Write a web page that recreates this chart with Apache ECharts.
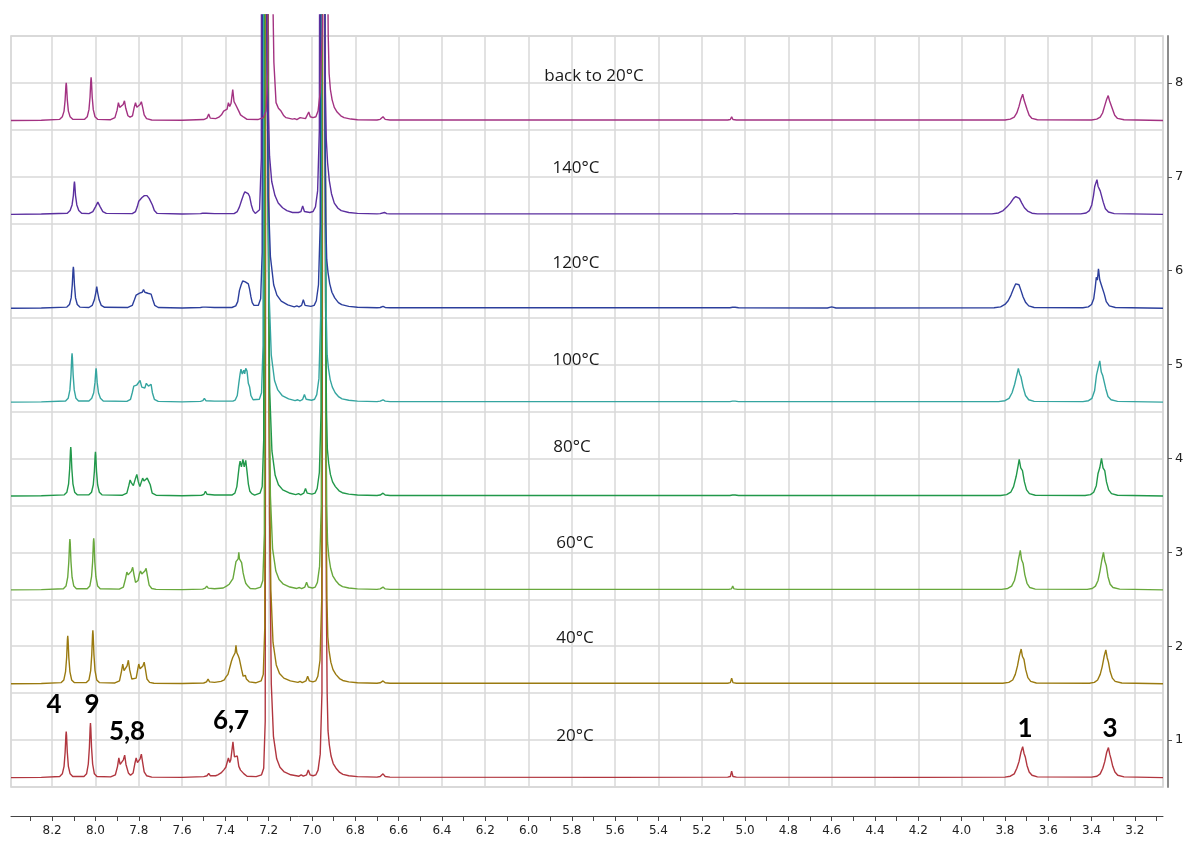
<!DOCTYPE html>
<html><head><meta charset="utf-8">
<script src="https://cdn.jsdelivr.net/npm/echarts@6/dist/echarts.min.js"></script>
<style>html,body{margin:0;padding:0;background:#fff}#c{width:1188px;height:844px}</style>
</head><body><div id="c"></div><script>
// ---- tick values / labels ----
const ppmMinorTicks = [8.3,8.2,8.1,8.0,7.9,7.8,7.7,7.6,7.5,7.4,7.3,7.2,7.1,7.0,6.9,6.8,6.7,6.6,6.5,6.4,6.3,6.2,6.1,6.0,5.9,5.8,5.7,5.6,5.5,5.4,5.3,5.2,5.1,5.0,4.9,4.8,4.7,4.6,4.5,4.4,4.3,4.2,4.1,4.0,3.9,3.8,3.7,3.6,3.5,3.4,3.3,3.2,3.1];
const ppmLabels = [8.2,8.0,7.8,7.6,7.4,7.2,7.0,6.8,6.6,6.4,6.2,6.0,5.8,5.6,5.4,5.2,5.0,4.8,4.6,4.4,4.2,4.0,3.8,3.6,3.4,3.2];
const spectrumIndex = [1,2,3,4,5,6,7,8];
const temperatures = ['20°C','40°C','60°C','80°C','100°C','120°C','140°C','back to 20°C'];
const peakLabels = ['4','9','5,8','6,7','1','3'];

// ---- spectra: [ppm, intensity above baseline] ----
const s20C = [[8.39,0],[8.25,0.003],[8.165,0.012],[8.153,0.04],[8.145,0.12],[8.14,0.27],[8.1365,0.45],[8.135,0.49],[8.1335,0.45],[8.13,0.27],[8.125,0.12],[8.117,0.04],[8.105,0.012],
[8.053,0.012],[8.041,0.04],[8.033,0.145],[8.028,0.32],[8.0245,0.53],[8.023,0.58],[8.0215,0.53],[8.018,0.32],[8.013,0.145],[8.005,0.04],[7.993,0.012],
[7.93,0.008],[7.908,0.03],[7.898,0.12],[7.892,0.21],[7.886,0.14],[7.878,0.12],[7.871,0.19],[7.865,0.24],[7.859,0.14],[7.848,0.05],[7.838,0.025],[7.826,0.05],[7.818,0.15],[7.812,0.21],[7.806,0.16],[7.8,0.14],[7.794,0.2],[7.788,0.25],[7.782,0.16],[7.775,0.06],[7.764,0.02],[7.74,0.005],
[7.6,0.003],[7.5,0.01],[7.485,0.02],[7.477,0.046],[7.47,0.02],[7.445,0.02],[7.435,0.03],[7.42,0.05],[7.408,0.08],[7.398,0.11],[7.392,0.12],[7.386,0.21],[7.38,0.16],[7.375,0.19],[7.365,0.38],[7.358,0.22],[7.352,0.2],[7.345,0.23],[7.338,0.12],[7.33,0.08],[7.322,0.09],[7.314,0.04],[7.3,0.015],
[7.258,0.01],[7.233,0.03],[7.223,0.1],[7.216,0.6],[7.211,16],[7.205,16],[7.2,6.2],[7.196,2.8],[7.188,1.0],[7.178,0.44],[7.163,0.2],[7.148,0.11],[7.128,0.06],[7.098,0.03],[7.06,0.015],
[7.05,0.03],[7.04,0.015],[7.025,0.03],[7.017,0.08],[7.009,0.03],[6.995,0.02],[6.982,0.03],[6.972,0.08],[6.962,0.25],[6.954,0.9],[6.947,16],[6.938,16],[6.934,2.0],[6.93,0.9],[6.926,0.5],[6.92,0.35],[6.912,0.23],[6.902,0.15],[6.889,0.1],[6.872,0.055],[6.857,0.035],[6.83,0.02],[6.79,0.01],
[6.7,0.005],[6.685,0.012],[6.672,0.04],[6.662,0.012],[6.64,0.005],
[5.6,0.003],[5.08,0.005],[5.068,0.012],[5.062,0.07],[5.056,0.012],[5.04,0.005],
[4.2,0.003],[3.8,0.005],[3.775,0.015],[3.757,0.04],[3.745,0.1],[3.735,0.17],[3.726,0.27],[3.718,0.33],[3.712,0.26],[3.706,0.22],[3.698,0.13],[3.688,0.06],[3.675,0.025],[3.65,0.008],
[3.4,0.005],[3.375,0.015],[3.36,0.04],[3.348,0.1],[3.339,0.17],[3.33,0.27],[3.322,0.32],[3.316,0.25],[3.31,0.2],[3.302,0.12],[3.292,0.06],[3.279,0.025],[3.25,0.008],[3.07,0]];

const s40C = [[8.39,0],[8.25,0.003],[8.158,0.012],[8.146,0.04],[8.138,0.13],[8.133,0.28],[8.1295,0.47],[8.128,0.51],[8.1265,0.47],[8.123,0.28],[8.118,0.13],[8.11,0.04],[8.098,0.012],
[8.042,0.012],[8.03,0.04],[8.022,0.14],[8.017,0.31],[8.0135,0.52],[8.012,0.57],[8.0105,0.52],[8.007,0.31],[8.002,0.14],[7.994,0.04],[7.982,0.012],
[7.91,0.008],[7.889,0.03],[7.88,0.13],[7.874,0.21],[7.868,0.14],[7.862,0.12],[7.854,0.19],[7.848,0.25],[7.842,0.15],[7.832,0.05],[7.824,0.03],[7.812,0.06],[7.805,0.15],[7.8,0.21],[7.794,0.16],[7.788,0.15],[7.781,0.19],[7.775,0.23],[7.769,0.15],[7.762,0.05],[7.75,0.015],[7.73,0.005],
[7.6,0.003],[7.5,0.008],[7.487,0.02],[7.48,0.05],[7.473,0.02],[7.45,0.015],[7.42,0.025],[7.405,0.04],[7.398,0.07],[7.394,0.08],[7.388,0.1],[7.38,0.17],[7.372,0.24],[7.366,0.28],[7.36,0.3],[7.355,0.33],[7.351,0.41],[7.347,0.33],[7.341,0.3],[7.336,0.27],[7.331,0.25],[7.325,0.15],[7.318,0.08],[7.312,0.07],[7.308,0.09],[7.303,0.05],[7.29,0.02],
[7.26,0.01],[7.235,0.03],[7.225,0.1],[7.218,0.6],[7.213,16],[7.207,16],[7.202,6.2],[7.198,2.8],[7.19,1.0],[7.18,0.44],[7.165,0.2],[7.15,0.11],[7.13,0.06],[7.1,0.03],[7.065,0.015],
[7.055,0.025],[7.045,0.012],[7.028,0.03],[7.02,0.08],[7.012,0.03],[6.996,0.02],[6.983,0.03],[6.973,0.08],[6.963,0.25],[6.955,0.9],[6.948,16],[6.939,16],[6.935,2.0],[6.931,0.9],[6.927,0.5],[6.921,0.35],[6.913,0.23],[6.903,0.15],[6.89,0.1],[6.873,0.055],[6.858,0.035],[6.83,0.02],[6.79,0.01],
[6.7,0.005],[6.685,0.01],[6.672,0.03],[6.662,0.01],[6.64,0.005],
[5.08,0.005],[5.068,0.012],[5.062,0.06],[5.056,0.012],[5.04,0.005],
[3.81,0.005],[3.782,0.015],[3.764,0.04],[3.752,0.1],[3.742,0.19],[3.733,0.3],[3.725,0.37],[3.719,0.29],[3.712,0.26],[3.704,0.15],[3.694,0.065],[3.681,0.025],[3.655,0.008],
[3.41,0.005],[3.387,0.015],[3.372,0.04],[3.36,0.1],[3.351,0.18],[3.342,0.29],[3.334,0.36],[3.328,0.28],[3.322,0.23],[3.314,0.13],[3.304,0.06],[3.291,0.025],[3.26,0.008],[3.07,0]];

const s60C = [[8.39,0],[8.25,0.003],[8.148,0.012],[8.136,0.04],[8.128,0.135],[8.123,0.3],[8.1195,0.5],[8.118,0.54],[8.1165,0.5],[8.113,0.3],[8.108,0.135],[8.1,0.04],[8.088,0.012],
[8.038,0.012],[8.026,0.04],[8.018,0.14],[8.013,0.3],[8.0095,0.51],[8.008,0.55],[8.0065,0.51],[8.003,0.3],[7.998,0.14],[7.99,0.04],[7.978,0.012],
[7.89,0.008],[7.871,0.03],[7.861,0.12],[7.855,0.19],[7.849,0.16],[7.842,0.15],[7.834,0.2],[7.828,0.24],[7.822,0.16],[7.815,0.08],[7.81,0.06],[7.803,0.1],[7.797,0.17],[7.792,0.2],[7.786,0.17],[7.779,0.16],[7.772,0.2],[7.766,0.23],[7.76,0.15],[7.752,0.05],[7.74,0.015],[7.72,0.005],
[7.6,0.003],[7.505,0.008],[7.493,0.018],[7.486,0.04],[7.479,0.018],[7.45,0.012],[7.41,0.02],[7.395,0.04],[7.388,0.06],[7.382,0.06],[7.375,0.08],[7.365,0.12],[7.357,0.22],[7.351,0.3],[7.345,0.31],[7.341,0.33],[7.338,0.4],[7.335,0.33],[7.332,0.32],[7.325,0.29],[7.318,0.18],[7.312,0.12],[7.306,0.07],[7.302,0.08],[7.296,0.04],[7.285,0.015],
[7.262,0.01],[7.237,0.03],[7.227,0.1],[7.22,0.6],[7.215,16],[7.209,16],[7.204,6.2],[7.2,2.8],[7.192,1.0],[7.182,0.44],[7.167,0.2],[7.152,0.11],[7.132,0.06],[7.102,0.03],[7.07,0.015],
[7.058,0.025],[7.048,0.012],[7.033,0.03],[7.025,0.08],[7.017,0.03],[6.998,0.02],[6.985,0.03],[6.975,0.08],[6.965,0.25],[6.957,0.9],[6.949,16],[6.94,16],[6.936,2.0],[6.932,0.9],[6.928,0.5],[6.922,0.35],[6.914,0.23],[6.904,0.15],[6.891,0.1],[6.874,0.055],[6.859,0.035],[6.83,0.02],[6.79,0.01],
[6.7,0.005],[6.685,0.01],[6.672,0.03],[6.662,0.01],[6.64,0.005],
[5.075,0.005],[5.063,0.01],[5.057,0.04],[5.051,0.01],[5.035,0.005],
[3.815,0.005],[3.787,0.015],[3.769,0.04],[3.756,0.1],[3.746,0.2],[3.737,0.33],[3.729,0.42],[3.723,0.32],[3.716,0.28],[3.708,0.16],[3.698,0.07],[3.685,0.025],[3.66,0.008],
[3.42,0.005],[3.397,0.015],[3.382,0.04],[3.37,0.1],[3.361,0.2],[3.353,0.31],[3.345,0.4],[3.339,0.31],[3.332,0.26],[3.324,0.14],[3.314,0.06],[3.301,0.025],[3.27,0.008],[3.07,0]];

const s80C = [[8.39,0],[8.25,0.003],[8.144,0.012],[8.132,0.04],[8.124,0.13],[8.119,0.29],[8.1155,0.48],[8.114,0.52],[8.1125,0.48],[8.109,0.29],[8.104,0.13],[8.096,0.04],[8.084,0.012],
[8.03,0.012],[8.018,0.04],[8.01,0.12],[8.005,0.26],[8.0015,0.43],[8.0,0.47],[7.9985,0.43],[7.995,0.26],[7.99,0.12],[7.982,0.04],[7.97,0.012],
[7.875,0.008],[7.855,0.03],[7.846,0.11],[7.84,0.17],[7.834,0.14],[7.825,0.11],[7.816,0.18],[7.809,0.23],[7.802,0.15],[7.795,0.1],[7.788,0.15],[7.782,0.19],[7.776,0.16],[7.768,0.15],[7.761,0.19],[7.754,0.2],[7.747,0.12],[7.738,0.03],[7.72,0.008],
[7.6,0.003],[7.51,0.008],[7.499,0.018],[7.492,0.05],[7.485,0.018],[7.45,0.01],
[7.37,0.01],[7.356,0.03],[7.347,0.1],[7.341,0.22],[7.336,0.32],[7.332,0.37],[7.326,0.31],[7.319,0.39],[7.313,0.31],[7.306,0.38],[7.3,0.26],[7.294,0.13],[7.287,0.05],[7.278,0.025],
[7.265,0.01],[7.24,0.03],[7.23,0.1],[7.223,0.6],[7.218,16],[7.212,16],[7.207,6.5],[7.203,3.0],[7.195,1.1],[7.185,0.48],[7.17,0.22],[7.155,0.12],[7.135,0.065],[7.105,0.032],[7.075,0.015],
[7.062,0.025],[7.052,0.012],[7.038,0.03],[7.03,0.08],[7.022,0.03],[7.0,0.02],[6.986,0.03],[6.976,0.08],[6.966,0.25],[6.958,0.9],[6.95,16],[6.941,16],[6.937,2.0],[6.933,0.9],[6.929,0.5],[6.923,0.35],[6.915,0.23],[6.905,0.15],[6.892,0.1],[6.875,0.055],[6.86,0.035],[6.83,0.02],[6.79,0.01],
[6.7,0.005],[6.685,0.01],[6.672,0.03],[6.662,0.01],[6.64,0.005],
[5.07,0.005],[5.058,0.01],[5.052,0.03],[5.046,0.01],[5.03,0.005],
[3.82,0.005],[3.792,0.015],[3.773,0.04],[3.76,0.1],[3.748,0.21],[3.74,0.31],[3.734,0.39],[3.727,0.3],[3.719,0.27],[3.71,0.15],[3.7,0.065],[3.687,0.025],[3.66,0.008],
[3.43,0.005],[3.405,0.015],[3.39,0.04],[3.378,0.11],[3.37,0.24],[3.362,0.3],[3.354,0.4],[3.347,0.3],[3.339,0.27],[3.331,0.15],[3.321,0.065],[3.308,0.025],[3.28,0.008],[3.07,0]];

const s100C = [[8.39,0],[8.25,0.003],[8.138,0.012],[8.126,0.04],[8.118,0.13],[8.113,0.29],[8.1095,0.48],[8.108,0.52],[8.1065,0.48],[8.103,0.29],[8.098,0.13],[8.09,0.04],[8.078,0.012],
[8.03,0.012],[8.017,0.04],[8.008,0.1],[8.002,0.21],[7.9985,0.33],[7.997,0.36],[7.9955,0.33],[7.992,0.21],[7.986,0.1],[7.977,0.04],[7.964,0.012],
[7.855,0.008],[7.838,0.03],[7.83,0.1],[7.823,0.17],[7.816,0.15],[7.81,0.18],[7.802,0.16],[7.794,0.23],[7.786,0.16],[7.778,0.15],[7.772,0.15],[7.765,0.2],[7.755,0.17],[7.748,0.18],[7.743,0.19],[7.737,0.1],[7.728,0.03],[7.71,0.008],
[7.6,0.003],[7.515,0.008],[7.504,0.015],[7.497,0.04],[7.49,0.015],[7.45,0.01],
[7.365,0.01],[7.355,0.02],[7.345,0.07],[7.338,0.2],[7.332,0.3],[7.328,0.35],[7.322,0.3],[7.315,0.34],[7.311,0.3],[7.306,0.36],[7.3,0.33],[7.294,0.2],[7.288,0.16],[7.282,0.07],[7.272,0.025],
[7.268,0.01],[7.243,0.03],[7.233,0.1],[7.226,0.6],[7.221,16],[7.215,16],[7.21,6.8],[7.206,3.2],[7.198,1.15],[7.188,0.5],[7.173,0.23],[7.158,0.13],[7.138,0.07],[7.108,0.034],[7.078,0.015],
[7.066,0.025],[7.056,0.012],[7.043,0.03],[7.035,0.08],[7.027,0.03],[7.002,0.02],[6.988,0.03],[6.978,0.08],[6.968,0.25],[6.96,0.9],[6.951,16],[6.942,16],[6.938,2.0],[6.934,0.9],[6.93,0.5],[6.924,0.36],[6.916,0.24],[6.906,0.16],[6.893,0.1],[6.876,0.055],[6.861,0.035],[6.83,0.02],[6.79,0.01],
[6.7,0.005],[6.685,0.01],[6.672,0.025],[6.662,0.01],[6.64,0.005],
[5.07,0.005],[5.058,0.01],[5.052,0.03],[5.046,0.01],[5.03,0.005],
[3.83,0.005],[3.8,0.015],[3.781,0.04],[3.767,0.1],[3.755,0.19],[3.745,0.29],[3.738,0.36],[3.732,0.3],[3.726,0.27],[3.716,0.16],[3.705,0.07],[3.69,0.025],[3.665,0.008],
[3.44,0.005],[3.414,0.015],[3.398,0.04],[3.386,0.12],[3.377,0.29],[3.37,0.3],[3.362,0.44],[3.355,0.32],[3.348,0.28],[3.342,0.27],[3.334,0.14],[3.324,0.06],[3.31,0.025],[3.28,0.008],[3.07,0]];

const s120C = [[8.39,0],[8.25,0.003],[8.132,0.012],[8.12,0.04],[8.112,0.11],[8.107,0.25],[8.1035,0.41],[8.102,0.44],[8.1005,0.41],[8.097,0.25],[8.092,0.11],[8.084,0.04],[8.072,0.012],
[8.03,0.008],[8.015,0.03],[8.005,0.09],[7.998,0.17],[7.994,0.23],[7.99,0.17],[7.983,0.09],[7.973,0.03],[7.958,0.01],
[7.85,0.008],[7.83,0.03],[7.82,0.09],[7.812,0.14],[7.804,0.15],[7.796,0.16],[7.79,0.17],[7.784,0.17],[7.778,0.2],[7.772,0.17],[7.766,0.18],[7.758,0.16],[7.75,0.16],[7.743,0.15],[7.735,0.09],[7.726,0.03],[7.71,0.008],
[7.6,0.003],[7.515,0.008],[7.504,0.012],[7.497,0.03],[7.49,0.012],[7.45,0.008],
[7.37,0.008],[7.352,0.025],[7.343,0.07],[7.335,0.19],[7.327,0.25],[7.32,0.29],[7.315,0.3],[7.308,0.28],[7.3,0.29],[7.294,0.26],[7.288,0.2],[7.282,0.12],[7.276,0.06],[7.268,0.03],
[7.262,0.02],[7.248,0.03],[7.237,0.1],[7.23,0.6],[7.225,16],[7.219,16],[7.214,7.0],[7.21,3.4],[7.202,1.2],[7.192,0.55],[7.177,0.25],[7.162,0.14],[7.142,0.075],[7.112,0.036],[7.082,0.015],
[7.07,0.025],[7.06,0.015],[7.048,0.03],[7.04,0.09],[7.032,0.03],[7.005,0.02],[6.99,0.03],[6.98,0.08],[6.97,0.25],[6.962,0.9],[6.953,16],[6.944,16],[6.94,2.0],[6.936,0.9],[6.932,0.52],[6.926,0.38],[6.918,0.26],[6.908,0.17],[6.895,0.11],[6.878,0.06],[6.863,0.038],[6.83,0.02],[6.79,0.01],
[6.7,0.005],[6.685,0.008],[6.672,0.02],[6.662,0.008],[6.64,0.005],
[5.07,0.005],[5.058,0.01],[5.052,0.03],[5.046,0.01],[5.03,0.005],
[4.62,0.003],[4.6,0.015],[4.58,0.003],
[3.85,0.005],[3.82,0.015],[3.8,0.04],[3.785,0.08],[3.772,0.14],[3.76,0.21],[3.75,0.26],[3.742,0.27],[3.735,0.25],[3.726,0.19],[3.716,0.12],[3.704,0.06],[3.69,0.025],[3.665,0.008],
[3.44,0.005],[3.415,0.015],[3.4,0.04],[3.39,0.1],[3.383,0.22],[3.378,0.33],[3.373,0.3],[3.368,0.42],[3.362,0.3],[3.355,0.25],[3.348,0.26],[3.341,0.15],[3.332,0.07],[3.318,0.025],[3.29,0.008],[3.07,0]];

const s140C = [[8.39,0],[8.25,0.003],[8.13,0.012],[8.117,0.04],[8.108,0.1],[8.102,0.2],[8.0985,0.32],[8.097,0.35],[8.0955,0.32],[8.092,0.2],[8.086,0.1],[8.077,0.04],[8.064,0.012],
[8.03,0.008],[8.012,0.03],[8.0,0.08],[7.989,0.13],[7.978,0.08],[7.966,0.03],[7.95,0.01],
[7.83,0.008],[7.815,0.03],[7.807,0.08],[7.8,0.14],[7.785,0.18],[7.774,0.2],[7.769,0.22],[7.762,0.2],[7.752,0.17],[7.745,0.15],[7.737,0.1],[7.728,0.04],[7.715,0.01],
[7.6,0.003],[7.515,0.008],[7.505,0.012],[7.497,0.03],[7.489,0.012],[7.45,0.008],
[7.36,0.008],[7.345,0.03],[7.335,0.08],[7.325,0.15],[7.316,0.21],[7.31,0.24],[7.302,0.24],[7.295,0.22],[7.288,0.19],[7.28,0.1],[7.272,0.04],[7.262,0.01],
[7.256,0.03],[7.242,0.05],[7.234,0.6],[7.229,16],[7.223,16],[7.218,7.5],[7.214,3.8],[7.206,1.4],[7.196,0.62],[7.186,0.35],[7.171,0.2],[7.156,0.12],[7.136,0.07],[7.116,0.04],[7.09,0.02],
[7.075,0.02],[7.063,0.02],[7.051,0.03],[7.043,0.09],[7.035,0.03],[7.01,0.02],[6.995,0.03],[6.984,0.08],[6.974,0.25],[6.966,0.9],[6.955,16],[6.946,16],[6.942,2.5],[6.938,1.3],[6.934,0.8],[6.928,0.55],[6.92,0.36],[6.91,0.22],[6.897,0.12],[6.88,0.065],[6.865,0.04],[6.83,0.02],[6.79,0.01],
[6.7,0.005],[6.685,0.008],[6.665,0.02],[6.655,0.008],[6.64,0.005],
[5.06,0.005],[5.05,0.008],[5.045,0.02],[5.04,0.008],[5.025,0.005],
[3.86,0.005],[3.83,0.015],[3.808,0.04],[3.79,0.08],[3.775,0.12],[3.76,0.17],[3.75,0.19],[3.742,0.19],[3.733,0.17],[3.722,0.12],[3.71,0.07],[3.695,0.035],[3.675,0.012],[3.65,0.005],
[3.45,0.005],[3.425,0.015],[3.41,0.04],[3.399,0.1],[3.391,0.2],[3.385,0.3],[3.38,0.28],[3.375,0.37],[3.37,0.3],[3.365,0.32],[3.36,0.25],[3.354,0.24],[3.346,0.13],[3.336,0.06],[3.322,0.025],[3.295,0.008],[3.07,0]];

const sBack20C = [[8.39,0],[8.25,0.003],[8.165,0.012],[8.153,0.04],[8.145,0.1],[8.14,0.22],[8.1365,0.37],[8.135,0.4],[8.1335,0.37],[8.13,0.22],[8.125,0.1],[8.117,0.04],[8.105,0.012],
[8.05,0.012],[8.038,0.04],[8.03,0.115],[8.025,0.25],[8.0215,0.42],[8.02,0.46],[8.0185,0.42],[8.015,0.25],[8.01,0.115],[8.002,0.04],[7.99,0.012],
[7.93,0.008],[7.91,0.03],[7.9,0.11],[7.894,0.19],[7.888,0.14],[7.88,0.12],[7.872,0.17],[7.866,0.21],[7.86,0.13],[7.85,0.05],[7.84,0.035],[7.829,0.05],[7.821,0.14],[7.815,0.19],[7.809,0.14],[7.8,0.12],[7.794,0.17],[7.788,0.2],[7.782,0.14],[7.775,0.06],[7.764,0.02],[7.74,0.005],
[7.6,0.003],[7.5,0.01],[7.485,0.025],[7.477,0.07],[7.47,0.025],[7.445,0.02],[7.43,0.035],[7.418,0.06],[7.408,0.1],[7.4,0.09],[7.392,0.12],[7.386,0.19],[7.38,0.15],[7.374,0.18],[7.366,0.33],[7.36,0.2],[7.353,0.17],[7.346,0.19],[7.338,0.1],[7.33,0.06],[7.323,0.07],[7.315,0.035],[7.3,0.012],
[7.25,0.01],[7.225,0.03],[7.212,0.1],[7.204,0.5],[7.199,16],[7.193,16],[7.188,4.0],[7.184,1.8],[7.176,0.62],[7.166,0.19],[7.155,0.13],[7.143,0.1],[7.13,0.05],[7.12,0.03],[7.09,0.015],
[7.08,0.02],[7.07,0.01],[7.063,0.02],[7.055,0.03],[7.047,0.015],[7.03,0.02],[7.022,0.04],[7.015,0.09],[7.008,0.04],[6.995,0.03],[6.982,0.04],[6.972,0.1],[6.962,0.3],[6.952,1.0],[6.943,16],[6.933,16],[6.929,2.0],[6.925,0.9],[6.921,0.5],[6.915,0.33],[6.907,0.22],[6.897,0.14],[6.884,0.09],[6.867,0.05],[6.852,0.03],[6.82,0.015],[6.79,0.008],
[6.7,0.005],[6.685,0.012],[6.672,0.04],[6.662,0.012],[6.64,0.005],
[5.08,0.005],[5.068,0.01],[5.062,0.04],[5.056,0.01],[5.04,0.005],
[3.8,0.005],[3.775,0.015],[3.757,0.035],[3.745,0.08],[3.735,0.15],[3.726,0.23],[3.718,0.28],[3.712,0.22],[3.706,0.2],[3.698,0.12],[3.688,0.055],[3.675,0.022],[3.65,0.008],
[3.4,0.005],[3.376,0.015],[3.36,0.035],[3.349,0.08],[3.34,0.15],[3.331,0.22],[3.323,0.265],[3.317,0.21],[3.311,0.2],[3.303,0.12],[3.293,0.055],[3.28,0.022],[3.25,0.008],[3.07,0]];

const spectra = [s20C, s40C, s60C, s80C, s100C, s120C, s140C, sBack20C];
const colors = ['#b1363f','#9a7a10','#68a83c','#21984a','#35a5a0','#2c3f9c','#5b2f9f','#a33282'];

const chart = echarts.init(document.getElementById('c'), null, {renderer:'canvas'});
const gridLine = {show:true, lineStyle:{color:'#d9d9d9', width:1.5}};
const L = 11, R = 25, B = 57;

const series = spectra.map((s, i) => ({
  type:'line', name: temperatures[i], xAxisIndex:1, yAxisIndex:2,
  data: s.map(p => [p[0], p[1] + i + 0.6]),
  symbol:'none', showSymbol:false, clip:true, silent:true, animation:false,
  lineStyle:{color: colors[i], width:1.4}, itemStyle:{color: colors[i]}, z:3
}));

const tempPos = [[575,736],[575,638],[575,543],[572,447],[576,360],[576,263],[576,168],[594,76]];
const peakPos = [[54,705],[92,705],[127,732],[231,721],[1025,729],[1110,729]];
const graphic = [];
temperatures.forEach((t,i)=>graphic.push({type:'text', x:tempPos[i][0], y:tempPos[i][1], z:10,
  style:{text:t, fill:'#1a1a1a', font:'17px "Open Sans", sans-serif', align:'center', verticalAlign:'middle'}}));
peakLabels.forEach((t,i)=>graphic.push({type:'text', x:peakPos[i][0], y:peakPos[i][1], z:10,
  style:{text:t, fill:'#000', font:'bold 26px Lato, "Open Sans", sans-serif', align:'center', verticalAlign:'middle'}}));

chart.setOption({
  animation:false,
  backgroundColor:'#ffffff',
  grid:[
    {left:L, right:R, top:36, bottom:B, show:true, borderColor:'#d0d0d0', borderWidth:1.5, backgroundColor:'transparent', containLabel:false},
    {left:L, right:R, top:15, bottom:B, show:false, containLabel:false}
  ],
  xAxis:[
    {gridIndex:0, type:'value', min:3.07, max:8.39, inverse:true,
     axisLine:{show:false}, axisTick:{show:false, customValues: ppmLabels}, axisLabel:{show:false, customValues: ppmLabels}, splitLine:gridLine},
    {gridIndex:1, type:'value', min:3.07, max:8.39, inverse:true, show:false},
    {gridIndex:0, type:'value', min:3.07, max:8.39, inverse:true, position:'bottom', offset:29,
     axisLine:{show:true, onZero:false, lineStyle:{color:'#444', width:1}},
     axisTick:{show:true, customValues: ppmMinorTicks, length:5, inside:false, lineStyle:{color:'#444'}},
     axisLabel:{show:true, customValues: ppmLabels, formatter: v => Number(v).toFixed(1), color:'#222', fontSize:12, fontFamily:'"DejaVu Sans", sans-serif', margin:9},
     splitLine:{show:false}}
  ],
  yAxis:[
    {gridIndex:0, type:'value', min:0.5, max:8.5, interval:0.5, position:'right',
     axisLine:{show:false}, axisTick:{show:false}, axisLabel:{show:false}, splitLine:gridLine},
    {gridIndex:0, type:'value', min:0.5, max:8.5, position:'right', offset:5,
     axisLine:{show:true, onZero:false, lineStyle:{color:'#8c8c8c', width:2}},
     axisTick:{show:true, customValues: spectrumIndex, length:4, lineStyle:{color:'#555'}},
     axisLabel:{show:true, customValues: spectrumIndex, color:'#222', fontSize:13, fontFamily:'"DejaVu Sans", sans-serif', margin:7},
     splitLine:{show:false}},
    {gridIndex:1, type:'value', min:0.5, max:8.7236, show:false}
  ],
  series: series,
  graphic: graphic
});
</script></body></html>
